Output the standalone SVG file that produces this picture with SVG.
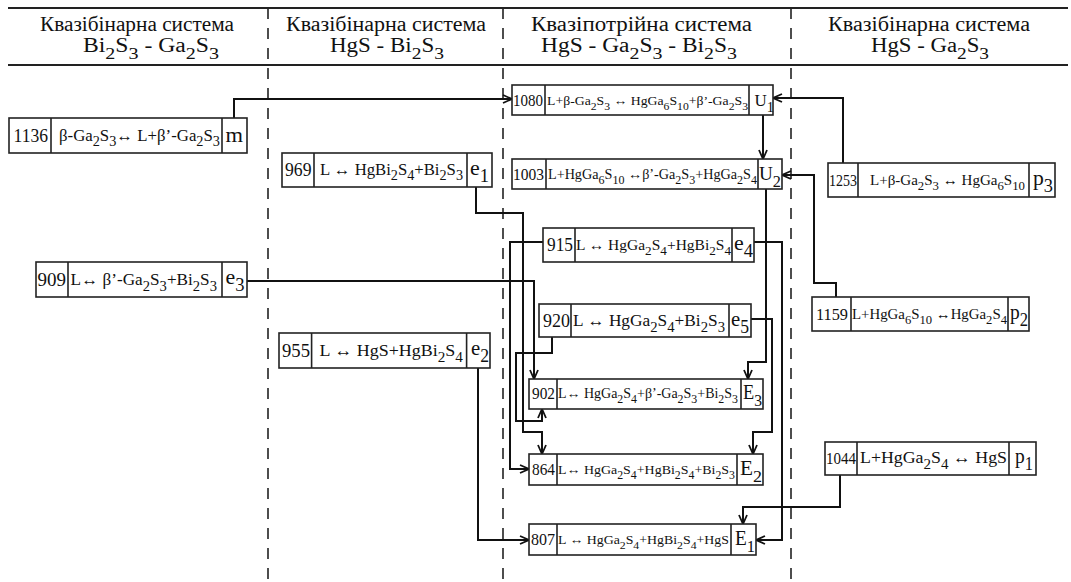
<svg xmlns="http://www.w3.org/2000/svg" width="1071" height="582" viewBox="0 0 1071 582">
<defs>
<style>
text{font-family:"Liberation Serif","Times New Roman",serif;fill:#111}
.s{font-size:85%;baseline-shift:-0.4em}
rect{fill:#fff;stroke:#222;stroke-width:1.6}
.dv{stroke:#222;stroke-width:1.6;fill:none}
.c{fill:none;stroke:#111;stroke-width:2;marker-end:url(#a)}
.hl{stroke:#222;stroke-width:2}
.dl{stroke:#222;stroke-width:1.6;stroke-dasharray:11 9}
</style>
<marker id="a" viewBox="0 0 10 10" refX="10" refY="5" markerWidth="10" markerHeight="10" markerUnits="userSpaceOnUse" orient="auto"><path d="M1,1 L10,5 L1,9" fill="none" stroke="#111" stroke-width="1.8"/></marker>
</defs>
<rect x="0" y="0" width="1071" height="582" style="fill:#fff;stroke:none"/>
<g id="frame">
<line class="hl" x1="8" y1="8" x2="1068" y2="8"/>
<line class="hl" x1="8" y1="65" x2="1068" y2="65"/>
<line class="dl" x1="268" y1="8" x2="268" y2="582"/>
<line class="dl" x1="503" y1="8" x2="503" y2="582"/>
<line class="dl" x1="791" y1="8" x2="791" y2="582"/>
</g>
<g id="headers">
<text x="40" y="31" textLength="194" lengthAdjust="spacingAndGlyphs" font-size="20">Квазібінарна система</text>
<text x="83" y="52" textLength="136" lengthAdjust="spacingAndGlyphs" font-size="20">Bi<tspan class="s">2</tspan>S<tspan class="s">3</tspan> - Ga<tspan class="s">2</tspan>S<tspan class="s">3</tspan></text>
<text x="286" y="31" textLength="200" lengthAdjust="spacingAndGlyphs" font-size="20">Квазібінарна система</text>
<text x="330" y="52" textLength="114" lengthAdjust="spacingAndGlyphs" font-size="20">HgS - Bi<tspan class="s">2</tspan>S<tspan class="s">3</tspan></text>
<text x="531" y="31" textLength="221" lengthAdjust="spacingAndGlyphs" font-size="20">Квазіпотрійна система</text>
<text x="541" y="52" textLength="196" lengthAdjust="spacingAndGlyphs" font-size="20">HgS - Ga<tspan class="s">2</tspan>S<tspan class="s">3</tspan> - Bi<tspan class="s">2</tspan>S<tspan class="s">3</tspan></text>
<text x="828" y="31" textLength="202" lengthAdjust="spacingAndGlyphs" font-size="20">Квазібінарна система</text>
<text x="871" y="52" textLength="118" lengthAdjust="spacingAndGlyphs" font-size="20">HgS - Ga<tspan class="s">2</tspan>S<tspan class="s">3</tspan></text>
</g>
<g id="connectors">
<path class="c" d="M234 118V99H512"/>
<path class="c" d="M843 163V98H773"/>
<path class="c" d="M763 115V159"/>
<path class="c" d="M836 297V283H814V175H782"/>
<path class="c" d="M476 187V213H523V432H542V454"/>
<path class="c" d="M247 281H534V379"/>
<path class="c" d="M543 242H510V469H529"/>
<path class="c" d="M754 242H782V540H756"/>
<path class="c" d="M552 337V353H516V421H542V409"/>
<path class="c" d="M751 319H772V432H753V454"/>
<path class="c" d="M766 189V362H748V379"/>
<path class="c" d="M478 368V540H529"/>
<path class="c" d="M840 475V507H743V524"/>
</g>
<g id="n-m">
<rect x="9" y="118" width="238" height="35"/><path class="dv" d="M51 118V153M222 118V153"/>
<text x="13.5" y="142" textLength="34.5" lengthAdjust="spacingAndGlyphs" font-size="18">1136</text>
<text x="59" y="141" textLength="161" lengthAdjust="spacingAndGlyphs" font-size="16">β-Ga<tspan class="s">2</tspan>S<tspan class="s">3</tspan>↔ L+β’-Ga<tspan class="s">2</tspan>S<tspan class="s">3</tspan></text>
<text x="225.5" y="142" textLength="17.5" lengthAdjust="spacingAndGlyphs" font-size="22">m</text>
</g>
<g id="n-e1">
<rect x="282" y="153" width="210" height="34"/><path class="dv" d="M314 153V187M467 153V187"/>
<text x="285" y="176" textLength="26.5" lengthAdjust="spacingAndGlyphs" font-size="19">969</text>
<text x="320" y="175" textLength="143" lengthAdjust="spacingAndGlyphs" font-size="16">L ↔ HgBi<tspan class="s">2</tspan>S<tspan class="s">4</tspan>+Bi<tspan class="s">2</tspan>S<tspan class="s">3</tspan></text>
<text x="470" y="175" textLength="19" lengthAdjust="spacingAndGlyphs" font-size="22">e<tspan class="s">1</tspan></text>
</g>
<g id="n-e3">
<rect x="36" y="262" width="211" height="35"/><path class="dv" d="M68 262V297M222 262V297"/>
<text x="37.5" y="286" textLength="28.5" lengthAdjust="spacingAndGlyphs" font-size="19">909</text>
<text x="70.6" y="285" textLength="146.4" lengthAdjust="spacingAndGlyphs" font-size="16.5">L↔ β’-Ga<tspan class="s">2</tspan>S<tspan class="s">3</tspan>+Bi<tspan class="s">2</tspan>S<tspan class="s">3</tspan></text>
<text x="225.5" y="284" textLength="19" lengthAdjust="spacingAndGlyphs" font-size="22">e<tspan class="s">3</tspan></text>
</g>
<g id="n-e2">
<rect x="279" y="333" width="211" height="35"/><path class="dv" d="M311.6 333V368M466.6 333V368"/>
<text x="282" y="357" textLength="28" lengthAdjust="spacingAndGlyphs" font-size="19">955</text>
<text x="319.6" y="356" textLength="143.4" lengthAdjust="spacingAndGlyphs" font-size="17">L ↔ HgS+HgBi<tspan class="s">2</tspan>S<tspan class="s">4</tspan></text>
<text x="471" y="355" textLength="18" lengthAdjust="spacingAndGlyphs" font-size="22">e<tspan class="s">2</tspan></text>
</g>
<g id="n-U1">
<rect x="512" y="85" width="261" height="30"/><path class="dv" d="M545 85V115M749 85V115"/>
<text x="513" y="106" textLength="30" lengthAdjust="spacingAndGlyphs" font-size="16">1080</text>
<text x="547" y="105" textLength="201" lengthAdjust="spacingAndGlyphs" font-size="13.4">L+β-Ga<tspan class="s">2</tspan>S<tspan class="s">3</tspan> ↔ HgGa<tspan class="s">6</tspan>S<tspan class="s">10</tspan>+β’-Ga<tspan class="s">2</tspan>S<tspan class="s">3</tspan></text>
<text x="754.5" y="106" textLength="19.5" lengthAdjust="spacingAndGlyphs" font-size="17">U<tspan class="s">1</tspan></text>
</g>
<g id="n-U2">
<rect x="512" y="159" width="270" height="30"/><path class="dv" d="M546 159V189M758 159V189"/>
<text x="513" y="180" textLength="31" lengthAdjust="spacingAndGlyphs" font-size="16">1003</text>
<text x="548" y="179" textLength="209" lengthAdjust="spacingAndGlyphs" font-size="13.7">L+HgGa<tspan class="s">6</tspan>S<tspan class="s">10</tspan> ↔β’-Ga<tspan class="s">2</tspan>S<tspan class="s">3</tspan>+HgGa<tspan class="s">2</tspan>S<tspan class="s">4</tspan></text>
<text x="759" y="180" textLength="22" lengthAdjust="spacingAndGlyphs" font-size="19.5">U<tspan class="s">2</tspan></text>
</g>
<g id="n-e4">
<rect x="543" y="228" width="211" height="34"/><path class="dv" d="M575 228V262M732 228V262"/>
<text x="547" y="251" textLength="26" lengthAdjust="spacingAndGlyphs" font-size="18.5">915</text>
<text x="576" y="250" textLength="155" lengthAdjust="spacingAndGlyphs" font-size="15">L ↔ HgGa<tspan class="s">2</tspan>S<tspan class="s">4</tspan>+HgBi<tspan class="s">2</tspan>S<tspan class="s">4</tspan></text>
<text x="734" y="250" textLength="19" lengthAdjust="spacingAndGlyphs" font-size="22">e<tspan class="s">4</tspan></text>
</g>
<g id="n-e5">
<rect x="539" y="304" width="212" height="33"/><path class="dv" d="M571 304V337M729 304V337"/>
<text x="543" y="327" textLength="27" lengthAdjust="spacingAndGlyphs" font-size="18.5">920</text>
<text x="573" y="326" textLength="152" lengthAdjust="spacingAndGlyphs" font-size="16.5">L ↔ HgGa<tspan class="s">2</tspan>S<tspan class="s">4</tspan>+Bi<tspan class="s">2</tspan>S<tspan class="s">3</tspan></text>
<text x="731" y="326" textLength="18" lengthAdjust="spacingAndGlyphs" font-size="22">e<tspan class="s">5</tspan></text>
</g>
<g id="n-E3">
<rect x="529" y="379" width="234" height="30"/><path class="dv" d="M557 379V409M741 379V409"/>
<text x="532" y="399" textLength="23" lengthAdjust="spacingAndGlyphs" font-size="17">902</text>
<text x="558" y="398" textLength="180" lengthAdjust="spacingAndGlyphs" font-size="13.6">L↔ HgGa<tspan class="s">2</tspan>S<tspan class="s">4</tspan>+β’-Ga<tspan class="s">2</tspan>S<tspan class="s">3</tspan>+Bi<tspan class="s">2</tspan>S<tspan class="s">3</tspan></text>
<text x="743" y="399" textLength="19" lengthAdjust="spacingAndGlyphs" font-size="20">E<tspan class="s">3</tspan></text>
</g>
<g id="n-E2">
<rect x="529" y="454" width="234" height="31"/><path class="dv" d="M557 454V485M737 454V485"/>
<text x="532" y="475" textLength="23" lengthAdjust="spacingAndGlyphs" font-size="17">864</text>
<text x="558" y="474" textLength="177" lengthAdjust="spacingAndGlyphs" font-size="13.5">L↔ HgGa<tspan class="s">2</tspan>S<tspan class="s">4</tspan>+HgBi<tspan class="s">2</tspan>S<tspan class="s">4</tspan>+Bi<tspan class="s">2</tspan>S<tspan class="s">3</tspan></text>
<text x="740" y="475" textLength="22" lengthAdjust="spacingAndGlyphs" font-size="20">E<tspan class="s">2</tspan></text>
</g>
<g id="n-E1">
<rect x="529" y="524" width="227" height="31"/><path class="dv" d="M557 524V555M731 524V555"/>
<text x="531" y="545" textLength="24" lengthAdjust="spacingAndGlyphs" font-size="17">807</text>
<text x="558" y="544" textLength="171" lengthAdjust="spacingAndGlyphs" font-size="13.4">L ↔ HgGa<tspan class="s">2</tspan>S<tspan class="s">4</tspan>+HgBi<tspan class="s">2</tspan>S<tspan class="s">4</tspan>+HgS</text>
<text x="735" y="545" textLength="20" lengthAdjust="spacingAndGlyphs" font-size="20">E<tspan class="s">1</tspan></text>
</g>
<g id="n-p3">
<rect x="828" y="163" width="227" height="34"/><path class="dv" d="M858 163V197M1029 163V197"/>
<text x="829" y="186" textLength="28" lengthAdjust="spacingAndGlyphs" font-size="16.5">1253</text>
<text x="870" y="185" textLength="155" lengthAdjust="spacingAndGlyphs" font-size="14.6">L+β-Ga<tspan class="s">2</tspan>S<tspan class="s">3</tspan> ↔ HgGa<tspan class="s">6</tspan>S<tspan class="s">10</tspan></text>
<text x="1033" y="185" textLength="20" lengthAdjust="spacingAndGlyphs" font-size="22">p<tspan class="s">3</tspan></text>
</g>
<g id="n-p2">
<rect x="812" y="297" width="217" height="34"/><path class="dv" d="M851 297V331M1008 297V331"/>
<text x="816" y="320" textLength="32" lengthAdjust="spacingAndGlyphs" font-size="17">1159</text>
<text x="852" y="319" textLength="155" lengthAdjust="spacingAndGlyphs" font-size="14.4">L+HgGa<tspan class="s">6</tspan>S<tspan class="s">10</tspan> ↔HgGa<tspan class="s">2</tspan>S<tspan class="s">4</tspan></text>
<text x="1010" y="319" textLength="18" lengthAdjust="spacingAndGlyphs" font-size="22">p<tspan class="s">2</tspan></text>
</g>
<g id="n-p1">
<rect x="825" y="442" width="211" height="33"/><path class="dv" d="M857 442V475M1009 442V475"/>
<text x="826" y="464" textLength="30" lengthAdjust="spacingAndGlyphs" font-size="16">1044</text>
<text x="860" y="463" textLength="147" lengthAdjust="spacingAndGlyphs" font-size="17">L+HgGa<tspan class="s">2</tspan>S<tspan class="s">4</tspan> ↔ HgS</text>
<text x="1015" y="463" textLength="18" lengthAdjust="spacingAndGlyphs" font-size="22">p<tspan class="s">1</tspan></text>
</g>
</svg>
